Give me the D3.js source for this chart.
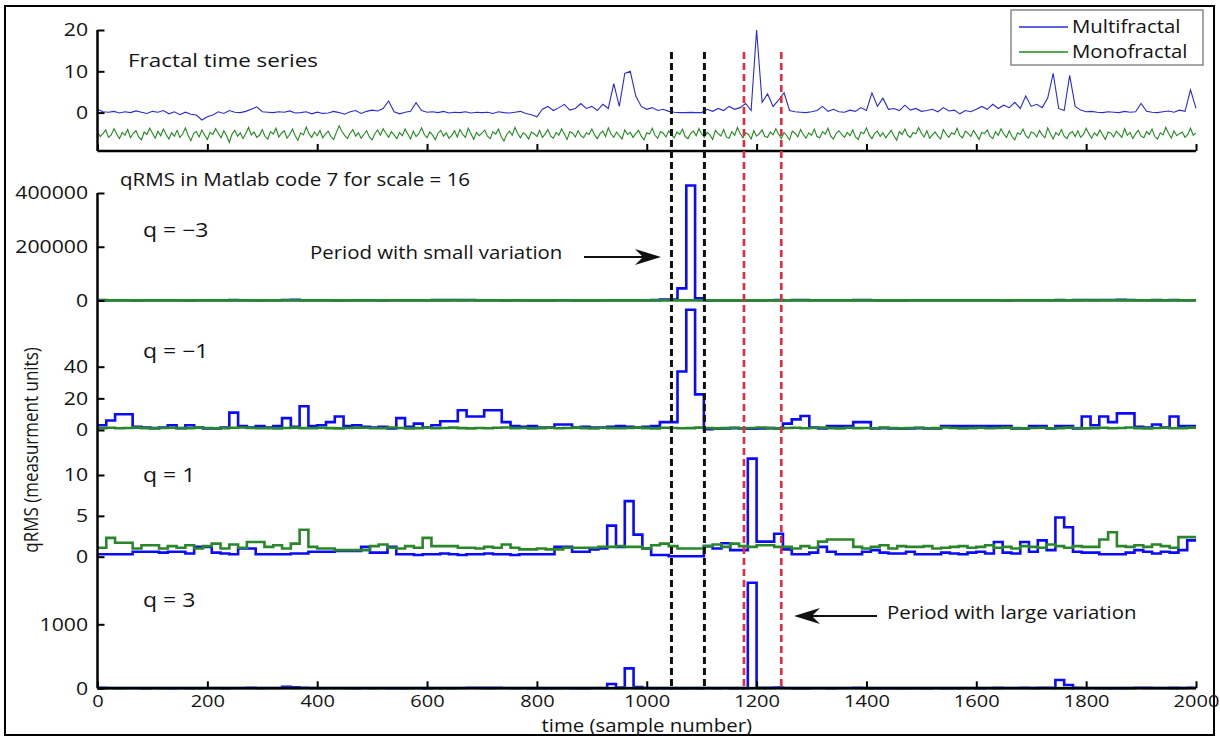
<!DOCTYPE html>
<html><head><meta charset="utf-8">
<script src="https://cdn.jsdelivr.net/npm/d3@7"></script>
<style>
body{margin:0;background:#fff}
svg{display:block}
text{font-family:"Open Sans",sans-serif;fill:#141414;font-size:17px}
</style>
</head><body><svg id="c" width="1220" height="740"></svg>
<script>
// ---------- data ----------
const xTicks = [0,200,400,600,800,1000,1200,1400,1600,1800,2000];
const multiStep = 10;    // samples between points of the multifractal series
const monoStep = 5;      // samples between points of the monofractal series
const segLen = 16;       // scale = 16
const markers = {black:[1045,1105], red:[1177,1245]};

const multifractal = [
 0.8,0.2,0.1,0.3,-0.1,0.2,0.0,0.4,0.1,-0.2,
 0.3,0.1,0.5,-0.3,0.2,-0.5,0.1,-0.4,-0.6,-1.8,
 -1.0,-0.6,0.2,-0.2,0.5,0.1,0.0,0.3,0.8,1.4,
 0.2,0.1,0.0,0.2,0.1,0.4,-0.1,0.0,0.2,-0.3,
 0.1,-0.2,-0.1,0.3,0.0,-0.4,0.2,0.5,-0.2,0.3,
 0.6,0.4,1.0,2.8,0.2,-0.3,0.1,0.3,2.4,0.5,
 0.1,0.2,0.0,0.3,-0.1,0.1,0.0,0.2,-0.1,0.1,
 0.0,0.1,-0.2,0.2,0.0,-0.1,0.1,0.3,-0.2,-0.5,
 -1.0,0.8,1.5,0.5,1.2,2.0,0.6,1.0,2.2,1.0,
 1.5,0.5,2.0,1.0,7.0,1.5,9.5,10.0,4.0,1.5,
 0.8,1.2,0.5,0.8,0.3,0.1,0.0,0.0,0.05,0.0,
 0.0,0.8,0.3,1.0,0.5,1.5,0.8,1.2,2.2,0.5,
 20,2.5,4.5,1.5,3.0,4.8,0.5,0.2,0.1,0.0,
 0.2,0.5,1.5,0.3,0.8,0.2,0.1,0.6,0.3,1.2,
 0.5,4.8,1.5,3.5,0.8,1.0,0.5,1.8,0.6,1.0,
 0.3,0.5,0.8,0.2,1.2,0.4,0.6,-0.3,0.5,0.2,
 0.8,1.5,0.8,2.0,1.0,1.8,1.2,2.5,1.0,4.0,
 1.5,2.0,1.2,3.5,9.5,1.0,0.5,9.0,1.5,0.6,
 0.2,0.3,0.1,0.0,0.2,0.1,0.0,0.3,0.1,0.2,
 2.2,0.3,0.1,0.0,0.2,0.4,0.1,0.6,0.3,5.5,
 1.0];

const monofractal = [
 -4.6,-5.8,-5.1,-4.2,-6.0,-5.4,-3.9,-5.2,-6.3,-4.8,
 -5.5,-4.1,-6.1,-5.0,-4.4,-5.9,-6.6,-4.7,-5.3,-3.8,
 -5.0,-6.2,-4.5,-5.6,-4.0,-5.3,-6.4,-4.9,-5.7,-4.3,
 -6.0,-5.2,-3.7,-5.5,-6.8,-5.1,-4.6,-5.9,-4.2,-5.4,
 -6.5,-4.8,-5.3,-3.9,-5.0,-6.1,-4.4,-5.6,-7.2,-5.2,
 -4.3,-5.7,-4.9,-6.3,-5.0,-3.6,-5.4,-4.7,-6.0,-5.5,
 -4.1,-5.8,-6.4,-4.6,-5.2,-3.8,-5.9,-5.0,-4.4,-6.2,
 -5.3,-4.0,-5.6,-6.7,-4.9,-5.4,-3.5,-5.1,-6.0,-4.7,
 -5.6,-4.3,-6.1,-5.2,-4.5,-5.8,-6.5,-4.8,-3.2,-4.6,
 -5.5,-6.3,-5.0,-4.1,-5.7,-4.9,-6.2,-5.3,-4.4,-5.9,
 -6.6,-5.1,-4.2,-5.5,-3.9,-5.0,-6.0,-4.6,-5.4,-6.3,
 -4.8,-5.6,-4.0,-5.2,-6.4,-4.5,-5.8,-5.1,-3.7,-5.3,
 -6.1,-4.7,-5.4,-6.6,-5.0,-4.3,-5.7,-4.9,-6.2,-5.5,
 -4.4,-5.9,-4.1,-5.3,-6.0,-3.8,-5.1,-6.5,-4.8,-5.6,
 -5.0,-4.2,-5.7,-6.3,-4.6,-5.2,-4.0,-5.8,-6.9,-5.3,
 -4.5,-5.5,-3.6,-5.0,-6.1,-4.9,-5.4,-6.4,-4.7,-5.1,
 -5.8,-4.3,-6.0,-5.2,-4.1,-5.7,-6.2,-4.8,-5.5,-3.9,
 -5.2,-6.5,-4.6,-5.0,-5.9,-4.4,-5.6,-6.1,-4.9,-5.3,
 -4.0,-5.4,-6.3,-5.1,-4.5,-5.8,-3.7,-5.2,-6.0,-4.7,
 -5.6,-6.4,-4.2,-5.3,-4.8,-6.0,-5.1,-4.3,-5.7,-6.6,
 -4.9,-5.2,-3.8,-5.5,-6.2,-4.6,-5.0,-5.9,-4.4,-5.4,
 -6.1,-4.7,-5.3,-4.0,-5.8,-6.3,-5.0,-4.5,-5.6,-3.9,
 -5.2,-6.0,-4.8,-5.4,-6.5,-4.3,-5.1,-5.7,-4.1,-5.9,
 -6.2,-4.6,-5.5,-3.6,-5.0,-6.1,-4.9,-5.3,-6.4,-4.4,
 -5.7,-5.1,-4.2,-5.8,-6.0,-4.7,-5.4,-3.9,-5.2,-6.3,
 -4.8,-5.6,-6.6,-4.5,-5.0,-5.9,-4.1,-5.3,-6.2,-4.9,
 -5.5,-4.0,-5.8,-6.1,-4.6,-5.2,-3.8,-5.7,-6.4,-5.0,
 -4.4,-5.3,-6.0,-4.8,-5.6,-4.2,-5.9,-6.5,-4.7,-5.1,
 -3.7,-5.4,-6.3,-5.0,-4.5,-5.8,-4.9,-6.1,-5.2,-4.3,
 -5.6,-6.7,-4.6,-5.3,-4.0,-5.5,-6.0,-4.8,-5.1,-3.6,
 -5.0,-5.9,-4.4,-6.2,-5.4,-4.7,-5.7,-6.4,-4.1,-5.2,
 -6.0,-4.9,-5.3,-3.8,-5.6,-6.1,-4.5,-5.0,-5.8,-4.3,
 -5.4,-6.5,-4.8,-5.1,-4.2,-5.7,-6.3,-4.6,-5.5,-3.9,
 -5.2,-6.0,-4.4,-5.8,-6.6,-4.9,-5.3,-4.0,-5.6,-6.2,
 -4.7,-5.0,-5.9,-4.3,-5.4,-6.1,-3.7,-5.2,-6.4,-4.8,
 -5.5,-4.1,-5.7,-6.3,-5.0,-4.6,-5.8,-4.4,-6.0,-5.3,
 -3.8,-5.1,-6.2,-4.9,-5.6,-4.2,-5.4,-6.5,-4.7,-5.0,
 -5.9,-4.5,-5.2,-6.0,-3.9,-5.5,-4.8,-6.3,-5.1,-4.3,
 -5.7,-6.1,-4.6,-5.3,-4.0,-5.8,-6.4,-4.9,-5.4,-3.6,
 -5.0,-6.2,-4.4,-5.6,-5.1,-4.7,-6.0,-5.3,-3.8,-5.5,
 -4.9];

// qRMS per 16-sample segment (125 segments)
const qm3Multi = [
 1500,900,1200,800,600,700,900,1100,800,700,
 600,800,900,700,1200,1500,800,700,600,900,
 1000,1800,2500,1200,900,800,700,600,900,1000,
 800,700,600,900,1100,800,700,900,1300,1500,
 1800,1400,1600,900,800,700,600,800,700,600,
 500,600,700,800,600,500,600,700,800,900,
 1000,900,800,1500,4000,4000,45000,428000,8000,300,
 300,400,300,400,500,600,700,1500,1200,1800,
 2000,800,700,900,1000,1200,1500,1300,700,600,
 500,600,700,800,900,800,700,1000,1100,1200,
 900,800,700,600,800,900,1000,800,700,1500,
 1200,1400,2000,1500,1800,1700,2200,2100,900,800,
 1300,1000,1800,900,800];
const qm3Mono = [
 400,500,450,380,420,510,470,390,440,480,
 520,410,460,430,490,400,370,450,500,420,
 440,480,410,530,460,390,420,470,500,440,
 410,450,490,380,430,470,520,400,460,440,
 480,420,390,450,510,470,430,400,460,490,
 420,380,450,500,440,410,470,430,390,460,
 500,440,420,470,450,380,410,430,460,490,
 440,470,400,420,510,450,390,480,430,460,
 410,450,490,440,420,470,500,430,400,460,
 480,420,450,390,460,510,440,410,470,430,
 450,490,420,400,470,440,380,460,500,430,
 410,470,450,490,420,440,400,460,430,480,
 450,420,470,440,410];
const qm1Multi = [
 3,6,10,10,2,1.5,1.2,1.5,3,1.2,
 3,1.5,1,1,1.5,11,2.5,1.5,2.5,1.5,
 2.5,7.5,2,15,2.5,3,5,8.5,2.5,3,
 2,1.5,2,1,7.5,2,4,1.5,3,5.5,
 5.5,12.5,8.5,8.5,12.5,12.5,5,2.5,2,2.5,
 1.5,1.5,3.5,3.5,1.5,2,1.5,1.5,2,2.5,
 2,1.5,2,2.5,5,5,37,76,22.5,0.5,
 0.8,1,1.2,1,0.8,1,1.2,1,4,6.7,
 8.8,1.5,1,2.5,2.5,2.5,5,5,1,1.2,
 1,0.8,1,1.2,1,1,2.5,2.5,2.5,2.5,
 2.5,2.5,2.5,2.5,1,1,2.5,2.5,1,2.5,
 2.5,1,8.5,3,8.5,5,10.5,10.5,2,1.5,
 3.5,1.5,8.5,2.5,2.5];
const qm1Mono = [
 1.2,1.4,1.1,1.3,1.5,1.2,1.0,1.3,1.4,1.1,
 1.2,1.5,1.3,1.0,1.2,1.4,1.6,1.3,1.1,1.2,
 1.0,1.3,1.5,1.2,1.1,1.4,1.2,1.0,1.3,1.5,
 1.4,1.1,1.2,1.6,1.3,1.0,1.2,1.4,1.1,1.3,
 1.5,1.2,1.0,1.3,1.1,1.4,1.6,1.2,1.3,1.0,
 1.2,1.4,1.1,1.3,1.5,1.2,1.0,1.4,1.2,1.1,
 1.3,1.5,1.2,1.0,1.4,1.3,1.1,1.2,1.5,1.3,
 1.0,1.2,1.4,1.1,1.3,1.6,1.2,1.0,1.3,1.4,
 1.1,1.3,1.5,1.2,1.0,1.4,1.2,1.3,1.1,1.5,
 1.2,1.0,1.3,1.4,1.1,1.2,1.6,1.3,1.0,1.2,
 1.4,1.1,1.3,1.5,1.2,1.0,1.3,1.4,1.1,1.2,
 1.5,1.3,1.0,1.2,1.4,1.1,1.3,1.6,1.2,1.0,
 1.3,1.4,1.1,1.2,1.5];
const q1Multi = [
 0.3,0.3,0.3,0.3,0.6,0.6,0.6,0.5,0.6,0.6,
 0.4,1.2,1.2,0.5,0.4,0.3,1.0,1.0,0.3,0.3,
 0.3,0.3,0.4,0.4,0.6,0.6,0.6,0.7,0.7,0.7,
 1.2,0.5,0.5,1.2,0.3,0.3,0.2,0.3,0.3,0.4,
 0.3,0.2,0.3,0.3,0.4,0.3,0.3,0.2,0.3,0.3,
 0.3,0.3,1.2,1.2,0.6,0.6,0.9,1.0,3.8,1.2,
 6.8,2.7,1.0,0.2,0.2,0.05,0.05,0.05,0.05,1.3,
 1.0,1.65,0.8,0.8,12,1.85,1.85,2.8,0.9,0.3,
 0.3,0.5,1.2,0.6,0.3,0.3,0.3,0.6,0.8,0.5,
 0.4,0.4,0.6,0.3,0.3,0.3,0.5,0.4,0.3,0.5,
 0.6,0.4,1.8,0.5,0.4,1.8,0.6,2.0,0.8,4.8,
 3.6,0.6,0.5,0.5,0.3,0.3,0.3,0.5,0.8,0.6,
 0.4,0.6,0.5,0.8,2.0];
const q1Mono = [
 1.1,2.3,1.7,1.7,1.0,1.4,1.4,1.0,1.3,1.1,
 1.4,1.0,1.3,1.6,1.0,1.5,1.1,1.8,1.8,1.2,
 1.4,1.0,1.6,3.3,1.2,1.0,1.0,0.8,0.8,0.8,
 0.8,1.3,1.5,1.1,1.0,1.3,1.1,2.3,1.3,1.3,
 1.3,1.1,1.1,1.0,1.2,1.1,1.5,1.1,0.9,0.9,
 1.0,0.9,0.9,1.1,1.1,1.1,1.1,1.2,1.2,1.3,
 1.2,1.2,1.0,1.4,1.6,1.3,1.0,1.0,1.0,1.3,
 1.5,1.2,1.6,1.3,1.2,1.4,1.4,1.2,1.2,1.0,
 1.3,1.1,1.85,2.1,2.1,2.1,1.2,1.0,1.2,1.4,
 1.0,1.3,1.2,1.2,1.3,1.0,1.1,1.2,1.3,1.1,
 1.2,1.4,1.1,1.2,1.0,1.3,1.2,1.1,1.5,1.3,
 1.1,1.3,1.2,1.2,2.1,3.0,1.3,1.2,1.4,1.2,
 1.5,1.3,1.1,2.4,2.4];
const q3Multi = [
 8,5,5,4,4,3,5,4,3,4,
 3,4,5,4,3,4,5,6,5,4,
 4,25,15,8,5,4,4,5,4,3,
 4,5,4,3,3,5,4,3,4,5,
 4,5,8,6,6,7,5,4,4,3,
 3,3,4,4,3,3,4,4,67,10,
 312,20,5,3,3,2,2,2,2,4,
 3,5,3,3,1650,8,6,10,4,3,
 3,4,5,3,4,4,6,5,3,3,
 3,3,3,3,3,4,3,3,4,4,
 3,4,6,4,4,6,5,7,6,130,
 52,6,5,5,4,3,3,5,8,6,
 4,5,6,5,8];
const q3Mono = [
 3,4,3,5,4,3,4,3,5,4,
 4,3,5,4,3,4,4,5,3,4,
 5,4,3,4,5,3,4,4,3,5,
 4,3,4,5,4,3,5,4,4,3,
 3,5,4,4,3,4,5,3,4,4,
 4,4,3,5,4,3,4,5,4,3,
 5,3,4,4,5,4,3,4,3,5,
 4,5,3,4,4,3,5,4,4,3,
 3,4,5,3,4,5,4,3,4,4,
 4,3,4,5,3,4,4,5,3,4,
 5,4,3,4,4,5,3,4,5,3,
 3,4,5,4,3,4,5,3,4,4,
 4,5,3,4,4];

const topTicks = [0,10,20];
const panels = [
  {label:"q = \u22123", multi:qm3Multi, mono:qm3Mono, domain:[0,400000], range:[300.5,193], ticks:[0,200000,400000], ty:237},
  {label:"q = \u22121", multi:qm1Multi, mono:qm1Mono, domain:[0,40],     range:[430,366.7], ticks:[0,20,40], ty:358},
  {label:"q = 1",      multi:q1Multi,  mono:q1Mono,  domain:[0,10],     range:[556.7,475], ticks:[0,5,10], ty:482},
  {label:"q = 3",      multi:q3Multi,  mono:q3Mono,  domain:[0,1000],   range:[688.3,624.3], ticks:[0,1000], ty:607}
];

// ---------- drawing ----------
const SX = 1.18;  // horizontal stretch of the original figure's text
const BLUE = "#0a0aff", GREEN = "#2a862a";
const svg = d3.select("#c");
const fmt = d3.format("d");

svg.append("rect").attr("x",5).attr("y",6).attr("width",1209).attr("height",729)
  .attr("fill","none").attr("stroke","#000").attr("stroke-width",2);

const x = d3.scaleLinear().domain([0,2000]).range([97.5,1196]);

function txt(g, px, py, s, anchor, size){
  return g.append("text").attr("transform",`translate(${px},${py}) scale(${SX},1)`)
    .attr("text-anchor",anchor||"start").style("font-size",(size||17)+"px").text(s);
}
function styleAxis(g, size){
  g.select(".domain").remove();
  g.selectAll(".tick line").attr("stroke","#000").attr("stroke-width",2);
  g.selectAll(".tick text").attr("transform",`scale(${SX},1)`).style("font-size",(size||18)+"px")
   .style("font-family",'"Open Sans",sans-serif').attr("fill","#141414");
}

// ---- top panel ----
const yTop = d3.scaleLinear().domain([-9.3,20]).range([151,30]);
const gTop = svg.append("g");
gTop.append("path").datum(multifractal)
  .attr("d",d3.line().x((d,i)=>x(i*multiStep)).y(d=>yTop(d))).attr("fill","none")
  .attr("stroke","#2b2bd6").attr("stroke-width",1.1);
gTop.append("path").datum(monofractal)
  .attr("d",d3.line().x((d,i)=>x(i*monoStep)).y(d=>yTop(d))).attr("fill","none")
  .attr("stroke","#1f8a1f").attr("stroke-width",1.1);
gTop.append("line").attr("x1",x(0)).attr("x2",x(0)).attr("y1",yTop.range()[1]).attr("y2",yTop.range()[0])
  .attr("stroke","#000").attr("stroke-width",2.5);
gTop.append("line").attr("x1",x(0)).attr("x2",x(2000)).attr("y1",yTop.range()[0]).attr("y2",yTop.range()[0])
  .attr("stroke","#000").attr("stroke-width",2.5);
const gTopY = gTop.append("g").attr("transform",`translate(${x(0)},0)`)
  .call(d3.axisLeft(yTop).tickValues(topTicks).tickFormat(fmt).tickSizeInner(-7).tickSizeOuter(0).tickPadding(8));
styleAxis(gTopY);
const gTopX = gTop.append("g").attr("transform",`translate(0,${yTop.range()[0]})`)
  .call(d3.axisBottom(x).tickValues(xTicks).tickSizeInner(-7).tickSizeOuter(0).tickFormat(""));
styleAxis(gTopX);
txt(svg,128,67,"Fractal time series","start",19);

// legend
const lg = svg.append("g");
lg.append("rect").attr("x",1011).attr("y",10).attr("width",192).attr("height",55)
  .attr("fill","#fff").attr("stroke","#888").attr("stroke-width",1.5);
[["Multifractal","#2b2bd6",27],["Monofractal","#1f8a1f",52]].forEach(([n,c,cy])=>{
  lg.append("line").attr("x1",1019).attr("x2",1068).attr("y1",cy).attr("y2",cy).attr("stroke",c).attr("stroke-width",1.5);
  txt(lg,1072,cy+6,n,"start",17.3);
});

// ---- qRMS panels ----
txt(svg,120,186,"qRMS in Matlab code 7 for scale = 16","start",17.4);
const stepLine = d3.line().curve(d3.curveStepAfter);
panels.forEach(p=>{
  const y = d3.scaleLinear().domain(p.domain).range(p.range);
  p.y = y;
  const g = svg.append("g");
  const pts = arr => { const a = arr.map((v,k)=>[x(k*segLen), y(v)]); a.push([x(arr.length*segLen), y(arr[arr.length-1])]); return a; };
  g.append("path").attr("d",stepLine(pts(p.multi))).attr("fill","none").attr("stroke",BLUE).attr("stroke-width",2.6);
  g.append("path").attr("d",stepLine(pts(p.mono))).attr("fill","none").attr("stroke",GREEN).attr("stroke-width",2.6);
  const ga = g.append("g").attr("transform",`translate(${x(0)},0)`)
    .call(d3.axisLeft(y).tickValues(p.ticks).tickFormat(fmt).tickSizeInner(-7).tickSizeOuter(0).tickPadding(8));
  styleAxis(ga);
  txt(svg,143,p.ty,p.label,"start",19.5);
});
const yTopP = panels[0].y, yBot = panels[3].y;
svg.append("line").attr("x1",x(0)).attr("x2",x(0)).attr("y1",yTopP(400000)).attr("y2",yBot(0))
  .attr("stroke","#000").attr("stroke-width",2.5);
svg.append("line").attr("x1",x(0)).attr("x2",x(2000)).attr("y1",yBot(0)).attr("y2",yBot(0))
  .attr("stroke","#000").attr("stroke-width",2.5);
const gx = svg.append("g").attr("transform",`translate(0,${yBot(0)})`)
  .call(d3.axisBottom(x).tickValues(xTicks).tickFormat(fmt).tickSizeInner(-7).tickSizeOuter(0).tickPadding(7));
styleAxis(gx, 17);

// axis titles
txt(svg,x(1000),732,"time (sample number)","middle",17.3);
svg.append("text").attr("transform",`translate(38,450) rotate(-90) scale(1,${SX})`)
  .attr("text-anchor","middle").style("font-size","17px").text("qRMS (measurment units)");

// dashed markers
markers.black.forEach(s=>svg.append("line").attr("x1",x(s)).attr("x2",x(s)).attr("y1",52).attr("y2",yBot(0))
  .attr("stroke","#111").attr("stroke-width",3).attr("stroke-dasharray","7,4"));
markers.red.forEach(s=>svg.append("line").attr("x1",x(s)).attr("x2",x(s)).attr("y1",52).attr("y2",yBot(0))
  .attr("stroke","#e8283c").attr("stroke-width",2.6).attr("stroke-dasharray","7,4"));

// annotations with arrows
function arrow(x1,x2,yy){
  const dir = Math.sign(x2-x1);
  svg.append("line").attr("x1",x1).attr("x2",x2-dir*14).attr("y1",yy).attr("y2",yy).attr("stroke","#111").attr("stroke-width",2.2);
  svg.append("path").attr("d",`M${x2},${yy} L${x2-dir*26},${yy-8} L${x2-dir*18},${yy} L${x2-dir*26},${yy+8} Z`).attr("fill","#111");
}
txt(svg,310,259,"Period with small variation","start",17.3);
arrow(584,661,257);
txt(svg,887,619,"Period with large variation","start",17.3);
arrow(877,794,616);
</script></body></html>
